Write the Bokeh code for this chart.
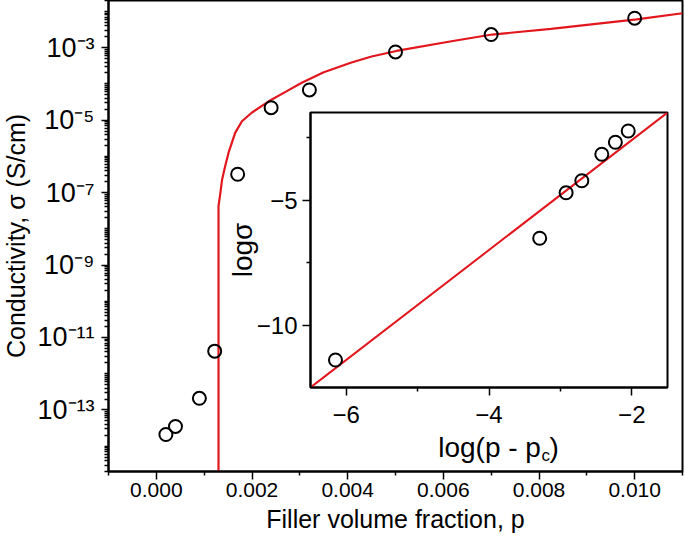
from bokeh.plotting import figure
from bokeh.models import Range1d, FixedTicker, Label, GridBox
from bokeh.embed import file_html
from bokeh.resources import INLINE

FONT = "Liberation Sans"
RED = "#e2161d"

# ---------------- main panel data ----------------
p_vals = [0.0002, 0.0004, 0.0009, 0.00122, 0.0017, 0.0024, 0.0032, 0.0050, 0.0070, 0.0100]
sigma_vals = [2.1e-14, 3.5e-14, 2.1e-13, 4.2e-12, 3.2e-7, 2.2e-5, 6.8e-5, 7.6e-4, 2.3e-3, 6.5e-3]

fit_p = [0.0013, 0.0013, 0.00134, 0.001375, 0.00144, 0.00151, 0.00158, 0.00165, 0.00179,
         0.0020, 0.00235, 0.0027, 0.00304, 0.0035, 0.00408, 0.0045, 0.00502,
         0.00617, 0.00702, 0.00825, 0.01004, 0.0110]
fit_sigma = [1e-16, 4.2e-8, 1.0e-7, 2.3e-7, 5.4e-7, 1.26e-6, 2.4e-6, 4.5e-6, 9.3e-6,
             1.62e-5, 3.3e-5, 6.0e-5, 1.07e-4, 2.1e-4, 3.9e-4, 5.7e-4, 8.1e-4,
             1.5e-3, 2.3e-3, 3.3e-3, 6.0e-3, 8.9e-3]

x_ticks = [0.000, 0.002, 0.004, 0.006, 0.008, 0.010]
x_tick_labels = ["0.000", "0.002", "0.004", "0.006", "0.008", "0.010"]
x_minor = [-0.001, 0.001, 0.003, 0.005, 0.007, 0.009, 0.011]
y_tick_exps = [-13, -11, -9, -7, -5, -3]
y_tick_labels = ["10\u207b\u00b9\u00b3", "10\u207b\u00b9\u00b9", "10\u207b\u2079",
                 "10\u207b\u2077", "10\u207b\u2075", "10\u207b\u00b3"]

# ---------------- inset data ----------------
inset_logdp = [-6.15, -3.29, -2.92, -2.70, -2.42, -2.23, -2.05]
inset_logsigma = [-11.4, -6.53, -4.71, -4.23, -3.17, -2.69, -2.24]
inset_fit_x = [-6.5, -1.5]
inset_fit_y = [-12.5, -1.5]
inset_x_ticks = [-6, -4, -2]
inset_x_labels = ["\u22126", "\u22124", "\u22122"]
inset_x_minor = [-5, -3]
inset_y_ticks = [-10, -5]
inset_y_labels = ["\u221210", "\u22125"]
inset_y_minor = [-7.5, -2.5]

# ---------------- main figure ----------------
p = figure(width=685, height=542, y_axis_type="log",
           x_range=Range1d(-0.001, 0.011), y_range=Range1d(2e-15, 2e-2),
           output_backend="svg", toolbar_location=None,
           min_border_left=107, min_border_right=2, min_border_top=1, min_border_bottom=70)
p.grid.visible = False
p.outline_line_color = "black"
p.outline_line_width = 2
p.background_fill_color = "white"
p.border_fill_color = "white"

p.line(fit_p, fit_sigma, line_color=RED, line_width=2.2)
p.scatter(p_vals, sigma_vals, marker="circle", size=13, fill_color=None,
          line_color="black", line_width=2)

y_major = [10.0 ** e for e in y_tick_exps]
y_minor = []
for e in range(-15, -1):
    for k in range(1, 10):
        v = k * 10.0 ** e
        if 2e-15 <= v <= 2e-2 and not (k == 1 and e in y_tick_exps):
            y_minor.append(v)

xa = p.xaxis[0]
xa.ticker = FixedTicker(ticks=x_ticks, minor_ticks=x_minor)
xa.major_label_overrides = dict(zip(x_ticks, x_tick_labels))
xa.axis_label = "Filler volume fraction, p"

ya = p.yaxis[0]
ya.ticker = FixedTicker(ticks=y_major, minor_ticks=y_minor)
ya.major_label_overrides = dict(zip(y_major, y_tick_labels))
ya.axis_label = "Conductivity, \u03c3 (S/cm)"

for ax in (xa, ya):
    ax.axis_line_width = 2
    ax.major_tick_line_width = 1.5
    ax.minor_tick_line_width = 1.5
    ax.major_tick_in = 0
    ax.minor_tick_in = 0
    ax.major_label_text_font = FONT
    ax.axis_label_text_font = FONT
    ax.axis_label_text_font_style = "normal"
    ax.axis_label_text_color = "black"
    ax.major_label_text_color = "black"
    ax.axis_label_text_font_size = "25px"

xa.major_tick_out = 8
xa.minor_tick_out = 4
xa.major_label_text_font_size = "21px"
xa.major_label_standoff = 3
xa.axis_label_standoff = 5

ya.major_tick_out = 7
ya.minor_tick_out = 4
ya.major_label_text_font_size = "27px"
ya.major_label_standoff = 7
ya.axis_label_standoff = 4

# x-axis title of the inset (drawn on the main canvas, inside its frame)
p.add_layout(Label(x=0.00804, y=9.1e-15, text="log(p - p", text_font=FONT,
                   text_font_size="28px", text_align="right",
                   text_baseline="alphabetic", text_color="black"))
p.add_layout(Label(x=0.00805, y=5.7e-15, text="c", text_font=FONT,
                   text_font_size="17px", text_align="left",
                   text_baseline="alphabetic", text_color="black"))
p.add_layout(Label(x=0.00822, y=9.1e-15, text=")", text_font=FONT,
                   text_font_size="28px", text_align="left",
                   text_baseline="alphabetic", text_color="black"))

# ---------------- inset figure ----------------
ins = figure(width=452, height=350,
             x_range=Range1d(-6.5, -1.5), y_range=Range1d(-12.5, -1.5),
             output_backend="svg", toolbar_location=None,
             min_border_left=90, min_border_right=5, min_border_top=5, min_border_bottom=70,
             border_fill_color=None, background_fill_color="white")
ins.grid.visible = False
ins.outline_line_color = "black"
ins.outline_line_width = 2

ins.line(inset_fit_x, inset_fit_y, line_color=RED, line_width=2)
ins.scatter(inset_logdp, inset_logsigma, marker="circle", size=13, fill_color=None,
            line_color="black", line_width=2)

ixa = ins.xaxis[0]
ixa.ticker = FixedTicker(ticks=inset_x_ticks, minor_ticks=inset_x_minor)
ixa.major_label_overrides = dict(zip(inset_x_ticks, inset_x_labels))
iya = ins.yaxis[0]
iya.ticker = FixedTicker(ticks=inset_y_ticks, minor_ticks=inset_y_minor)
iya.major_label_overrides = dict(zip(inset_y_ticks, inset_y_labels))
iya.axis_label = "log\u03c3"

for ax in (ixa, iya):
    ax.axis_line_width = 2
    ax.major_tick_line_width = 1.5
    ax.minor_tick_line_width = 1.5
    ax.major_tick_in = 0
    ax.minor_tick_in = 0
    ax.major_tick_out = 8
    ax.minor_tick_out = 4
    ax.major_label_text_font = FONT
    ax.major_label_text_font_size = "24px"
    ax.major_label_text_color = "black"
    ax.axis_label_text_font = FONT
    ax.axis_label_text_font_style = "normal"
    ax.axis_label_text_font_size = "28px"
    ax.axis_label_text_color = "black"
ixa.major_label_standoff = 10
iya.major_label_standoff = 5
iya.axis_label_standoff = -4

grid = GridBox(children=[(p, 0, 0, 3, 3), (ins, 1, 1)],
               rows=["108px", "350px", "84px"], cols=["221px", "452px", "12px"])
grid.margin = (-1, -1, -1, -1)

open("out.html", "w").write(file_html(grid, INLINE))
